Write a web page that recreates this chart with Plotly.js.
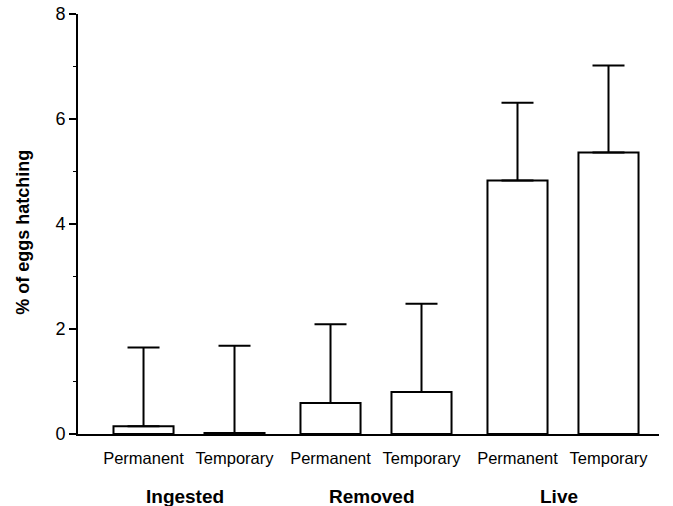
<!DOCTYPE html>
<html>
<head>
<meta charset="utf-8">
<script src="https://cdn.plot.ly/plotly-3.0.1.min.js"></script>
<style>
html,body{margin:0;padding:0;background:#fff;}
#chart{width:673px;height:506px;}
</style>
</head>
<body>
<div id="chart"></div>
<script>
// Data
const groups = ["Ingested", "Removed", "Live"];
const treatments = ["Permanent", "Temporary"];
const hatchMeans = [0.15, 0.02, 0.59, 0.80, 4.83, 5.36];   // % of eggs hatching
const hatchErrUp = [1.50, 1.66, 1.50, 1.68, 1.48, 1.66];   // upper error (added to mean)
const yTicks = [0, 2, 4, 6, 8];
const yTitle = "% of eggs hatching";

// Positions: pairs of bars within each group, a slightly larger gap between groups
const groupStep = 2.055;
const xs = [], tickText = [];
groups.forEach((g, gi) => {
  treatments.forEach((t, ti) => {
    xs.push(gi * groupStep + ti);
    tickText.push(t);
  });
});

const trace = {
  type: "bar",
  x: xs,
  y: hatchMeans,
  width: 0.66,
  marker: {color: "#ffffff", line: {color: "#000000", width: 2}},
  error_y: {
    type: "data",
    symmetric: false,
    array: hatchErrUp,
    arrayminus: hatchMeans.map(() => 0),
    color: "#000000",
    thickness: 2,
    width: 16
  },
  hoverinfo: "skip"
};

const FONT = "Liberation Sans, Arial, Helvetica, sans-serif";

const annotations = groups.map((g, gi) => ({
  text: "<b>" + g + "</b>",
  xref: "x", yref: "paper",
  x: gi * groupStep + 0.5 - 0.04,
  y: -0.15,
  xanchor: "center", yanchor: "middle",
  showarrow: false,
  font: {family: FONT, size: 19, color: "#000"}
}));

annotations.push({
  text: "<b>" + yTitle + "</b>",
  xref: "paper", yref: "paper",
  x: -0.095, y: 0.481,
  xanchor: "center", yanchor: "middle",
  textangle: -90,
  showarrow: false,
  font: {family: FONT, size: 18, color: "#000"}
});

const layout = {
  width: 673, height: 506,
  margin: {l: 78, r: 14, t: 14, b: 72, pad: 0},
  paper_bgcolor: "#ffffff",
  plot_bgcolor: "#ffffff",
  showlegend: false,
  font: {family: FONT, color: "#000", size: 16.5},
  xaxis: {
    range: [-0.72, 5.665],
    tickmode: "array",
    tickvals: xs,
    ticktext: tickText,
    ticks: "",
    ticklabelstandoff: 8,
    showgrid: false,
    zeroline: false,
    showline: true,
    linecolor: "#000",
    linewidth: 2,
    tickfont: {size: 16.5},
    fixedrange: true
  },
  yaxis: {
    range: [0, 8],
    tickmode: "array",
    tickvals: yTicks,
    ticks: "outside",
    ticklen: 7,
    tickwidth: 2,
    tickcolor: "#000",
    minor: {dtick: 1, ticks: "outside", ticklen: 3, tickwidth: 1, tickcolor: "#000"},
    showgrid: false,
    zeroline: false,
    showline: true,
    linecolor: "#000",
    linewidth: 2,
    tickfont: {size: 18, color: "#000"},
    automargin: false,
    fixedrange: true
  },
  annotations: annotations
};

Plotly.newPlot("chart", [trace], layout, {displayModeBar: false, staticPlot: true});
</script>
</body>
</html>
